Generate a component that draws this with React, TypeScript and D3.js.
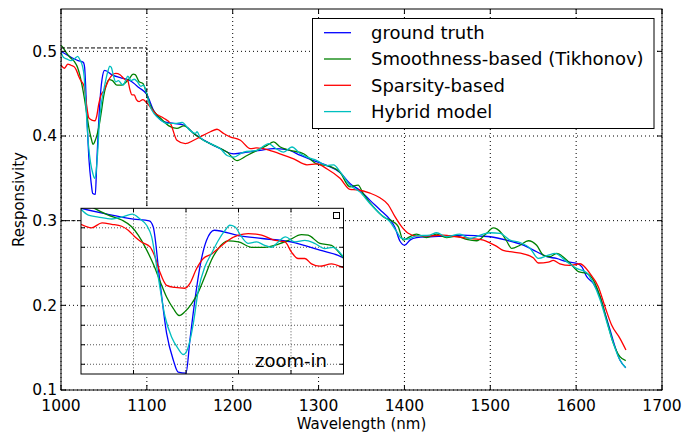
import React from "react";
import * as d3 from "d3";

const groundTruth: [number, number][] = [[1000,0.500],[1010,0.494],[1020,0.489],[1026,0.487],[1027.5,0.481],[1030,0.426],[1032.6,0.372],[1035.2,0.344],[1037,0.332],[1040,0.331],[1041.5,0.365],[1043.4,0.406],[1045.3,0.44],[1047.8,0.467],[1050.8,0.4775],[1060,0.472],[1069,0.469],[1080,0.4655],[1091,0.457],[1100,0.449],[1108,0.43],[1119.7,0.417],[1131,0.415],[1143,0.413],[1154.6,0.403],[1170,0.393],[1185.6,0.385],[1201,0.379],[1217,0.381],[1232,0.383],[1248,0.385],[1263,0.384],[1279,0.377],[1294,0.371],[1310,0.365],[1325,0.357],[1336.5,0.344],[1348,0.336],[1360,0.324],[1371.5,0.313],[1383,0.3015],[1389,0.292],[1394.7,0.276],[1400.5,0.271],[1406.4,0.277],[1414,0.28],[1430,0.281],[1449,0.2818],[1468,0.283],[1488,0.2818],[1500,0.281],[1519,0.277],[1538.5,0.271],[1554,0.2633],[1565.7,0.2574],[1577,0.2554],[1589,0.2515],[1600.6,0.2495],[1606.5,0.2456],[1612.3,0.2338],[1620,0.226],[1628,0.2102],[1633.7,0.1905],[1639.5,0.1708],[1645.3,0.1511],[1651,0.1354],[1657.8,0.1263]];

const tikhonov: [number, number][] = [[1000,0.507],[1002,0.505],[1005.3,0.4997],[1010.4,0.493],[1015.5,0.488],[1019.3,0.481],[1021.8,0.4724],[1024.4,0.4604],[1027.5,0.443],[1030,0.426],[1032.6,0.409],[1035.2,0.397],[1037.4,0.390],[1039.6,0.394],[1042.1,0.402],[1044.7,0.414],[1047.2,0.43],[1049.7,0.447],[1052.3,0.4587],[1056,0.4665],[1060,0.4655],[1065,0.46],[1070,0.46],[1075,0.463],[1079,0.467],[1084,0.473],[1086.5,0.4724],[1091,0.464],[1095.4,0.462],[1100,0.449],[1103.7,0.437],[1116,0.421],[1127.4,0.411],[1135,0.409],[1143,0.412],[1154.6,0.403],[1166,0.395],[1178,0.389],[1193.4,0.381],[1205,0.371],[1216.7,0.377],[1228.3,0.383],[1240,0.389],[1247.7,0.393],[1255.4,0.387],[1267,0.383],[1282.6,0.379],[1298,0.367],[1313.5,0.364],[1325,0.357],[1336.5,0.340],[1346,0.342],[1352,0.332],[1363.7,0.3165],[1375.3,0.3047],[1387,0.2988],[1392.8,0.293],[1398.6,0.277],[1404.4,0.28],[1414,0.284],[1425.7,0.28],[1437.4,0.284],[1449,0.28],[1460.7,0.2818],[1472.3,0.278],[1484,0.2763],[1495.6,0.285],[1503.4,0.2915],[1508,0.29],[1513.3,0.285],[1519,0.276],[1525,0.2672],[1534.6,0.271],[1544.3,0.2763],[1554,0.271],[1561.8,0.2593],[1569.5,0.2574],[1577.3,0.2613],[1587,0.2554],[1596.7,0.2456],[1602.6,0.2397],[1612.3,0.2377],[1620,0.2298],[1628,0.21],[1635.6,0.1826],[1643.4,0.1551],[1651,0.1393],[1657.8,0.1346]];

const sparsity: [number, number][] = [[1000,0.4836],[1004,0.48],[1008,0.485],[1011.7,0.4836],[1015.5,0.4816],[1018,0.4775],[1020.6,0.4706],[1023,0.4655],[1026.3,0.4604],[1028.2,0.45],[1030,0.435],[1032.6,0.421],[1035.8,0.4188],[1039.6,0.418],[1041.5,0.423],[1044,0.438],[1046.6,0.4485],[1049.7,0.453],[1052.3,0.4587],[1056,0.467],[1060,0.4724],[1063.7,0.474],[1068.8,0.4724],[1074,0.467],[1077.7,0.4655],[1080.2,0.455],[1082.7,0.4485],[1085.3,0.4485],[1087.8,0.443],[1091,0.4406],[1095.4,0.443],[1100,0.439],[1109.7,0.427],[1119.7,0.421],[1127.4,0.415],[1135,0.395],[1144.8,0.391],[1154.6,0.395],[1166,0.401],[1174,0.405],[1181.7,0.408],[1189.5,0.403],[1197,0.399],[1209,0.395],[1220.5,0.385],[1228,0.386],[1240,0.384],[1255,0.379],[1271,0.373],[1286.5,0.366],[1298,0.367],[1310,0.361],[1325,0.350],[1336.5,0.337],[1344,0.3365],[1360,0.3325],[1371.5,0.327],[1381,0.319],[1389,0.3047],[1396.7,0.293],[1404.4,0.2851],[1414,0.282],[1430,0.282],[1445,0.283],[1460.7,0.281],[1476,0.279],[1492,0.277],[1500,0.2734],[1507,0.270],[1515,0.2648],[1527,0.2628],[1538.5,0.2608],[1550,0.2562],[1556,0.25],[1567.6,0.251],[1573.4,0.253],[1581,0.2491],[1592.8,0.2471],[1604.5,0.2491],[1616,0.2377],[1625.8,0.222],[1633.6,0.1983],[1641.3,0.1767],[1651,0.161],[1658,0.1472]];

const hybrid: [number, number][] = [[1000,0.499],[1002.8,0.493],[1006.6,0.491],[1011.7,0.489],[1015.5,0.491],[1019.5,0.494],[1022.5,0.489],[1025,0.4826],[1026.9,0.471],[1029.4,0.43],[1032,0.389],[1034.5,0.368],[1037,0.356],[1039,0.350],[1040.9,0.358],[1042.8,0.382],[1044.7,0.416],[1047.2,0.44],[1049.7,0.4536],[1052.3,0.467],[1054.8,0.477],[1056.7,0.4826],[1058.6,0.481],[1061.2,0.4706],[1063.7,0.464],[1066.9,0.4655],[1070,0.462],[1072.6,0.46],[1075.1,0.4655],[1077.9,0.4706],[1081.5,0.4655],[1085.3,0.467],[1089,0.464],[1092.9,0.4587],[1096,0.46],[1100,0.450],[1103.7,0.435],[1116,0.419],[1123.7,0.415],[1135,0.415],[1141,0.416],[1148.8,0.408],[1156.5,0.403],[1158.5,0.405],[1162.3,0.398],[1174,0.391],[1185.6,0.385],[1193.4,0.377],[1201,0.375],[1212.8,0.381],[1228.3,0.383],[1242,0.391],[1247.7,0.387],[1259.3,0.381],[1269,0.387],[1278.8,0.379],[1286.5,0.375],[1298,0.371],[1310,0.365],[1317.5,0.366],[1325,0.358],[1336.5,0.342],[1348,0.334],[1360,0.320],[1371.5,0.308],[1383,0.2988],[1391,0.287],[1396.7,0.279],[1402.5,0.278],[1414,0.282],[1429.6,0.283],[1437.4,0.2857],[1449,0.281],[1464.5,0.284],[1476,0.279],[1491.7,0.284],[1500,0.2857],[1511.3,0.285],[1523,0.277],[1534.6,0.2742],[1546.3,0.2675],[1556,0.2554],[1567.6,0.2593],[1575.4,0.2613],[1589,0.2515],[1600.6,0.2436],[1612.3,0.2385],[1620,0.226],[1628,0.2063],[1635.6,0.1806],[1643.4,0.155],[1651,0.1354],[1657.8,0.1263]];

const seriesNames = ["ground truth", "Smoothness-based (Tikhonov)", "Sparsity-based", "Hybrid model"];
const seriesColors = ["#0000ff", "#008000", "#ff0000", "#00bfbf"];
const seriesData = [groundTruth, tikhonov, sparsity, hybrid];

const xTicks = [1000, 1100, 1200, 1300, 1400, 1500, 1600, 1700];
const yTicks = [0.1, 0.2, 0.3, 0.4, 0.5];
const insetXTicks = [1020, 1040, 1060, 1080];
const insetYTicks = [0.34, 0.36, 0.38, 0.40, 0.42, 0.44, 0.46, 0.48];
const zoomBox = { x0: 1000, x1: 1100, y0: 0.30, y1: 0.504 };

const FONT = "DejaVu Sans, sans-serif";

export default function App() {
  const W = 685, H = 437;
  const x = d3.scaleLinear().domain([1000, 1700]).range([61, 662]);
  const y = d3.scaleLinear().domain([0.1, 0.55]).range([390, 9]);
  const ix = d3.scaleLinear().domain([1000, 1100]).range([81, 343.5]);
  const iy = d3.scaleLinear().domain([0.33, 0.5]).range([374, 208.3]);

  const mainLine = d3.line<[number, number]>().x(d => x(d[0])).y(d => y(d[1])).curve(d3.curveMonotoneX);
  const insetLine = d3.line<[number, number]>().x(d => ix(d[0])).y(d => iy(d[1])).curve(d3.curveMonotoneX);

  const [l, r] = x.range();
  const [b, t] = y.range();
  const [il, ir] = ix.range();
  const [ib, it] = iy.range();

  return (
    <svg width={W} height={H} style={{ position: "absolute", left: 0, top: 0, background: "#fff" }} fontFamily={FONT}>
      <defs>
        <clipPath id="mainClip"><rect x={l} y={t} width={r - l} height={b - t} /></clipPath>
        <clipPath id="insetClip"><rect x={il} y={it} width={ir - il} height={ib - it} /></clipPath>
      </defs>
      <rect x={0} y={0} width={W} height={H} fill="#fff" />
      {xTicks.map(v => (
        <line key={"gx" + v} x1={x(v)} x2={x(v)} y1={t} y2={b} stroke="#000" strokeWidth={1} strokeDasharray="1,3" />
      ))}
      {yTicks.map(v => (
        <line key={"gy" + v} x1={l} x2={r} y1={y(v)} y2={y(v)} stroke="#000" strokeWidth={1} strokeDasharray="1,3" />
      ))}
      <g clipPath="url(#mainClip)">
        {seriesData.map((s, i) => (
          <path key={"m" + i} d={mainLine(s) || ""} fill="none" stroke={seriesColors[i]} strokeWidth={1.3} />
        ))}
        <rect x={x(zoomBox.x0)} y={y(zoomBox.y1)} width={x(zoomBox.x1) - x(zoomBox.x0)} height={y(zoomBox.y0) - y(zoomBox.y1)} fill="none" stroke="#000" strokeWidth={1} strokeDasharray="4,2" />
      </g>
      {xTicks.map(v => (
        <g key={"tx" + v}>
          <line x1={x(v)} x2={x(v)} y1={b} y2={b - 5} stroke="#000" />
          <line x1={x(v)} x2={x(v)} y1={t} y2={t + 5} stroke="#000" />
          <text x={x(v)} y={411} fontSize={15.5} textAnchor="middle" fill="#000">{v}</text>
        </g>
      ))}
      {yTicks.map(v => (
        <g key={"ty" + v}>
          <line x1={l} x2={l + 5} y1={y(v)} y2={y(v)} stroke="#000" />
          <line x1={r} x2={r - 5} y1={y(v)} y2={y(v)} stroke="#000" />
          <text x={57} y={y(v)} dy="0.35em" fontSize={15.5} textAnchor="end" fill="#000">{v.toFixed(1)}</text>
        </g>
      ))}
      <rect x={l} y={t} width={r - l} height={b - t} fill="none" stroke="#000" strokeWidth={1} />
      <text x={(l + r) / 2} y={429} fontSize={15} textAnchor="middle" fill="#000">Wavelength (nm)</text>
      <text transform={`translate(24,${(t + b) / 2}) rotate(-90)`} fontSize={15} textAnchor="middle" fill="#000">Responsivity</text>

      <rect x={il} y={it} width={ir - il} height={ib - it} fill="#fff" />
      {insetXTicks.map(v => (
        <line key={"igx" + v} x1={ix(v)} x2={ix(v)} y1={it} y2={ib} stroke="#555" strokeWidth={1} strokeDasharray="1,2" />
      ))}
      {insetYTicks.map(v => (
        <line key={"igy" + v} x1={il} x2={ir} y1={iy(v)} y2={iy(v)} stroke="#555" strokeWidth={1} strokeDasharray="1,2" />
      ))}
      <g clipPath="url(#insetClip)">
        {seriesData.map((s, i) => (
          <path key={"i" + i} d={insetLine(s) || ""} fill="none" stroke={seriesColors[i]} strokeWidth={1.3} />
        ))}
      </g>
      {insetXTicks.map(v => (
        <g key={"itx" + v}>
          <line x1={ix(v)} x2={ix(v)} y1={ib} y2={ib - 4} stroke="#000" />
          <line x1={ix(v)} x2={ix(v)} y1={it} y2={it + 4} stroke="#000" />
        </g>
      ))}
      {insetYTicks.map(v => (
        <g key={"ity" + v}>
          <line x1={il} x2={il + 4} y1={iy(v)} y2={iy(v)} stroke="#000" />
          <line x1={ir} x2={ir - 4} y1={iy(v)} y2={iy(v)} stroke="#000" />
        </g>
      ))}
      <rect x={il} y={it} width={ir - il} height={ib - it} fill="none" stroke="#000" strokeWidth={1} />
      <rect x={333.5} y={212.5} width={6} height={6} fill="#fff" stroke="#000" strokeWidth={1} />
      <text x={327} y={367} fontSize={18} textAnchor="end" fill="#000">zoom-in</text>

      <rect x={312.5} y={18.5} width={341.5} height={110} fill="#fff" stroke="#000" strokeWidth={1} />
      {seriesNames.map((name, i) => {
        const yy = 32.7 + i * 26.3;
        return (
          <g key={"lg" + i}>
            <line x1={324} x2={351} y1={yy} y2={yy} stroke={seriesColors[i]} strokeWidth={1.3} />
            <text x={371} y={yy} dy="0.35em" fontSize={18} fill="#000">{name}</text>
          </g>
        );
      })}
    </svg>
  );
}
